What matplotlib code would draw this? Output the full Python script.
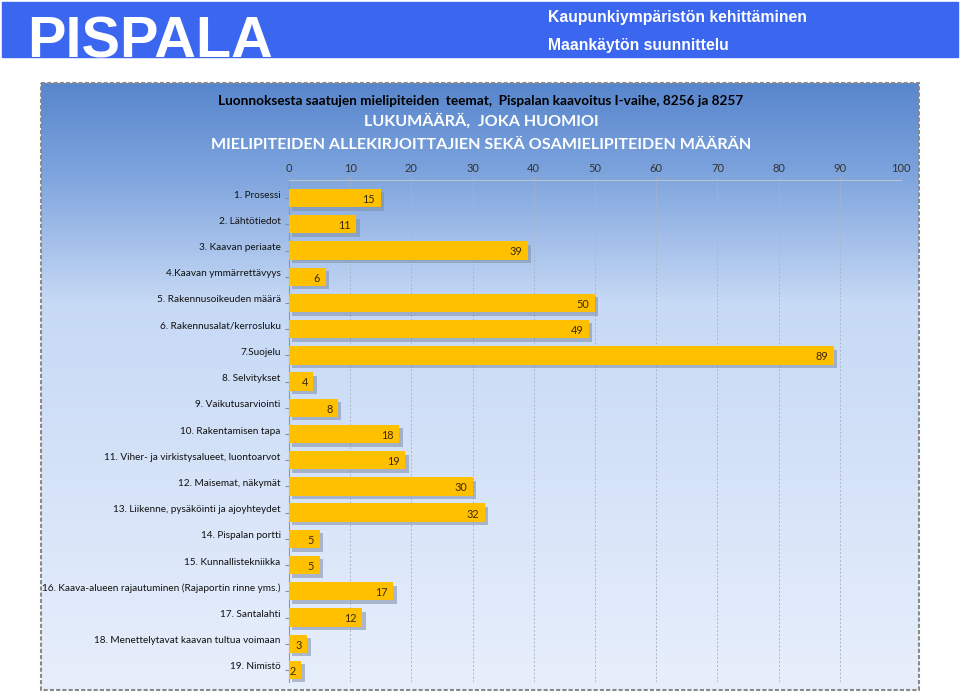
import numpy as np
import matplotlib.pyplot as plt
import matplotlib.patheffects as pe
from matplotlib.colors import LinearSegmentedColormap
from matplotlib.transforms import ScaledTranslation

teemat = ["1. Prosessi", "2. Lähtötiedot", "3. Kaavan periaate",
          "4.Kaavan ymmärrettävyys", "5. Rakennusoikeuden määrä",
          "6. Rakennusalat/kerrosluku", "7.Suojelu", "8. Selvitykset",
          "9. Vaikutusarviointi", "10. Rakentamisen tapa",
          "11. Viher- ja virkistysalueet, luontoarvot",
          "12. Maisemat, näkymät",
          "13. Liikenne, pysäköinti ja ajoyhteydet", "14. Pispalan portti",
          "15. Kunnallistekniikka",
          "16. Kaava-alueen rajautuminen (Rajaportin rinne yms.)",
          "17. Santalahti", "18. Menettelytavat kaavan tultua voimaan",
          "19. Nimistö"]
lukumaara = [15, 11, 39, 6, 50, 49, 89, 4, 8, 18, 19, 30, 32, 5, 5, 17, 12, 3, 2]
xtikut = [0, 10, 20, 30, 40, 50, 60, 70, 80, 90, 100]

W, H = 960, 693
fig = plt.figure(figsize=(W / 100, H / 100), dpi=100)

# yläpalkki
ylä = fig.add_axes([0, 0, 1, 1], zorder=0)
ylä.set_xlim(0, W)
ylä.set_ylim(H, 0)
ylä.axis("off")
ylä.add_patch(plt.Rectangle((2, 2), 956, 55, color="#3b67f0"))
ylä.text(27, 58, "PISPALA", color="white", fontsize=41.5, fontweight="bold",
         family="Liberation Sans", va="baseline", ha="left", clip_on=True)
ylä.text(548, 22, "Kaupunkiympäristön kehittäminen", color="white", fontsize=11.3,
         fontweight="bold", family="Liberation Sans", va="baseline")
ylä.text(548, 50, "Maankäytön suunnittelu", color="white", fontsize=11.3,
         fontweight="bold", family="Liberation Sans", va="baseline")

# kaaviopaneelin liukuväri
cmap = LinearSegmentedColormap.from_list(
    "tausta", [(0, "#5886cd"), (0.14, "#7ba2dc"), (0.36, "#c6d9f5"), (1, "#e8effc")])
grad = np.linspace(0, 1, 256).reshape(-1, 1)
ylä.imshow(grad, cmap=cmap, aspect="auto", extent=[41, 919, 690, 83], zorder=1)
ylä.add_patch(plt.Rectangle((41, 83), 878, 607, fill=False, ec="#8a8a8a",
                            lw=1.5, ls=(0, (2, 1)), zorder=2))
ylä.set_xlim(0, W)
ylä.set_ylim(H, 0)

ylä.text(481, 105, "Luonnoksesta saatujen mielipiteiden  teemat,  Pispalan kaavoitus I-vaihe, 8256 ja 8257",
         ha="center", va="baseline", fontsize=9.8, fontweight="bold", family="Lato", zorder=3)
ylä.text(481, 126, "LUKUMÄÄRÄ,  JOKA HUOMIOI", ha="center", va="baseline",
         fontsize=11.6, color="white", fontweight="bold", family="Lato", zorder=3)
ylä.text(481, 149, "MIELIPITEIDEN ALLEKIRJOITTAJIEN SEKÄ OSAMIELIPITEIDEN MÄÄRÄN",
         ha="center", va="baseline", fontsize=11.6, color="white", fontweight="bold",
         family="Lato", zorder=3)

# pylväskaavio
ax = fig.add_axes([289 / W, 1 - 682 / H, (901 - 289) / W, (682 - 180) / H], zorder=5)
ax.patch.set_alpha(0)
y = np.arange(len(teemat))
palkit = ax.barh(y, lukumaara, height=0.7, color="#ffc000", zorder=3)
for p in palkit:
    p.set_path_effects([pe.SimplePatchShadow(offset=(2.5, -2.5), shadow_rgbFace="#7d8ca8", alpha=0.55),
                        pe.Normal()])
for yi, v in zip(y, lukumaara):
    ax.annotate(str(v), (v, yi), xytext=(-4, -1), textcoords="offset points",
                ha="right", va="center", fontsize=7.8, color="#3a2a00",
                family="Lato", zorder=4)

ax.set_xlim(0, 100)
ax.set_ylim(18.46, -0.69)
ax.set_xticks(xtikut)
ax.xaxis.tick_top()
ax.tick_params(axis="x", length=3, color="#9aa6b8", labelsize=8,
               labelcolor="#333333", pad=1)
ax.set_xticklabels([str(t) for t in xtikut], family="Lato")
ax.set_yticks(y)
ax.set_yticklabels(teemat, fontsize=7.2, family="Lato", color="#111111")
ax.tick_params(axis="y", length=3, color="#8090a0", pad=3)
siirto = ScaledTranslation(0, 4 / 100, fig.dpi_scale_trans)
for lab in ax.get_yticklabels():
    lab.set_transform(lab.get_transform() + siirto)
ax.grid(axis="x", ls=(0, (2, 2)), color="#a9b6c8", lw=0.7, zorder=0)
for s in ["right", "bottom"]:
    ax.spines[s].set_visible(False)
ax.spines["top"].set_color("#b8c4d4")
ax.spines["left"].set_color("#8a96a8")

fig.savefig("out.png", dpi=100)
